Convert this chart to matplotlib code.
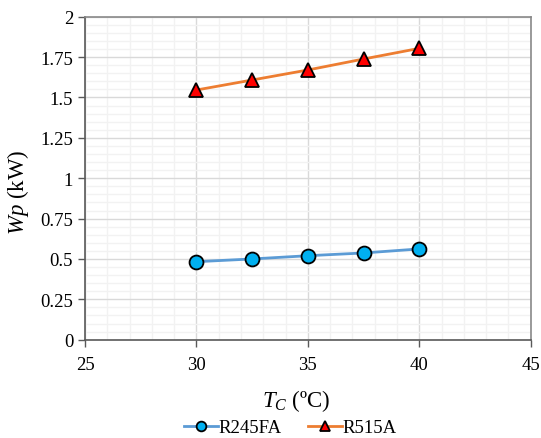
import matplotlib
matplotlib.use("Agg")
import matplotlib.pyplot as plt
from matplotlib.ticker import MultipleLocator, FuncFormatter

tc = [30, 32.5, 35, 37.5, 40]
r245fa = [0.483, 0.500, 0.520, 0.537, 0.562]
r515a = [1.546, 1.608, 1.670, 1.738, 1.804]
series_names = ["R245FA", "R515A"]

plt.rcParams['font.family'] = ['Liberation Serif', 'DejaVu Serif']
plt.rcParams['mathtext.fontset'] = 'custom'
plt.rcParams['mathtext.rm'] = 'Liberation Serif'
plt.rcParams['mathtext.it'] = 'Liberation Serif:italic'

fig = plt.figure(figsize=(5.41, 4.39), dpi=100)
ax = fig.add_axes([85/541, 1-340.7/439, (530.7-85)/541, (340.7-17.7)/439])

ax.plot(tc, r245fa, color='#5B9BD5', lw=2, marker='o', ms=10, mfc='#00B0F0', mec='black', mew=1.3, label=series_names[0], zorder=3)
ax.plot(tc, r515a, color='#ED7D31', lw=2, marker='^', ms=10, mfc='#FF0000', mec='black', mew=1.3, label=series_names[1], zorder=3)

ax.set_xlim(25, 45)
ax.set_ylim(0, 2)
ax.xaxis.set_major_locator(MultipleLocator(5))
ax.xaxis.set_minor_locator(MultipleLocator(1))
ax.yaxis.set_major_locator(MultipleLocator(0.25))
ax.yaxis.set_minor_locator(MultipleLocator(0.05))
ax.yaxis.set_major_formatter(FuncFormatter(lambda v, p: ('%g' % v)))
ax.grid(which='major', color='#D9D9D9', lw=1)
ax.grid(which='minor', color='#F2F2F2', lw=1)
ax.set_axisbelow(True)
ax.tick_params(which='major', direction='out', length=5, color='#595959', labelsize=13.5, width=1)
ax.tick_params(which='minor', length=0)
ax.tick_params(axis='x', pad=7)
for s in ['left', 'bottom']:
    ax.spines[s].set_color('#595959')
for s in ['top', 'right']:
    ax.spines[s].set_color('#898989')
for s in ax.spines.values():
    s.set_linewidth(1.2)

ax.set_xlabel(r'$T_C$ (ºC)', fontsize=16.5)
ax.set_ylabel(r'$Wp$ (kW)', fontsize=16.5)
ax.xaxis.set_label_coords((296-85)/445.7, -(401-340.7)/323)
ax.yaxis.set_label_coords(-(85-18)/445.7, 1-(192-17.7)/323)
ax.xaxis.label.set_va('center')
ax.yaxis.label.set_va('center')

leg = fig.legend(loc='center', bbox_to_anchor=(290.5/541, 1-428.5/439), ncol=2, frameon=False, fontsize=13.5,
                 handlelength=1.8, columnspacing=1.4, handletextpad=0.05, markerscale=0.7,
                 borderpad=0, borderaxespad=0)

fig.savefig('out.png', dpi=100)
